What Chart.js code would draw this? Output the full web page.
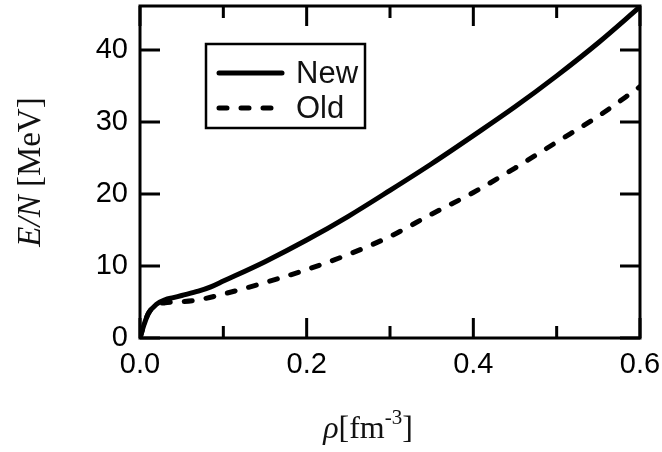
<!DOCTYPE html>
<html>
<head>
<meta charset="utf-8">
<script src="https://cdn.jsdelivr.net/npm/chart.js@4/dist/chart.umd.min.js"></script>
<style>
html, body { margin: 0; padding: 0; background: #fff; }
#wrap { width: 662px; height: 452px; }
</style>
</head>
<body>
<div id="wrap"><canvas id="myChart" width="662" height="452"></canvas></div>
<script>
// data
const rhoNew = [0, 0.005, 0.01, 0.02, 0.03, 0.04, 0.05, 0.07, 0.085, 0.1, 0.15, 0.2, 0.25, 0.3, 0.35, 0.4, 0.45, 0.5, 0.55, 0.6];
const eNew   = [0, 1.9, 3.4, 4.7, 5.3, 5.6, 5.9, 6.5, 7.1, 7.9, 10.6, 13.6, 16.9, 20.5, 24.2, 28.1, 32.1, 36.4, 41.0, 46.0];
const rhoOld = [0, 0.005, 0.01, 0.02, 0.03, 0.04, 0.05, 0.07, 0.1, 0.15, 0.2, 0.25, 0.3, 0.35, 0.4, 0.45, 0.5, 0.55, 0.6];
const eOld   = [0, 1.9, 3.4, 4.6, 4.9, 5.0, 5.05, 5.3, 6.1, 7.7, 9.5, 11.6, 14.1, 17.2, 20.2, 23.6, 27.2, 30.8, 34.9];
const seriesLabels = ['New', 'Old'];
const xTickLabels = ['0.0', '0.2', '0.4', '0.6'];
const yTickLabels = ['0', '10', '20', '30', '40'];

const SANS = '"Liberation Sans", Arial, sans-serif';
const SERIF = '"Liberation Serif", "Times New Roman", serif';

function toPoints(xs, ys) {
    return xs.map((x, i) => ({ x: x, y: ys[i] }));
}

// frame, inward ticks, axis titles and boxed legend
const decorPlugin = {
    id: 'decor',
    afterDraw(chart) {
        const ctx = chart.ctx;
        const a = chart.chartArea;
        const xs = chart.scales.x, ys = chart.scales.y;
        ctx.save();
        ctx.strokeStyle = '#000';
        ctx.lineWidth = 3;
        ctx.strokeRect(a.left, a.top, a.right - a.left, a.bottom - a.top);

        xs.ticks.forEach((t) => {
            const px = xs.getPixelForValue(t.value);
            const major = xTickLabels.includes(t.label);
            const len = major ? 20 : 12;
            ctx.beginPath();
            ctx.moveTo(px, a.bottom); ctx.lineTo(px, a.bottom - len);
            ctx.moveTo(px, a.top); ctx.lineTo(px, a.top + len);
            ctx.stroke();
        });
        ys.ticks.forEach((t) => {
            const py = ys.getPixelForValue(t.value);
            ctx.beginPath();
            ctx.moveTo(a.left, py); ctx.lineTo(a.left + 20, py);
            ctx.moveTo(a.right, py); ctx.lineTo(a.right - 20, py);
            ctx.stroke();
        });

        // y title: E/N [MeV]
        ctx.fillStyle = '#111';
        ctx.textBaseline = 'middle';
        ctx.textAlign = 'left';
        ctx.translate(31, a.top + 166);
        ctx.rotate(-Math.PI / 2);
        const itFont = 'italic 33px ' + SERIF, upFont = '33px ' + SERIF;
        ctx.font = itFont;
        const w1 = ctx.measureText('E/N').width;
        ctx.font = upFont;
        const w2 = ctx.measureText(' [MeV]').width;
        let sx = -(w1 + w2) / 2;
        ctx.font = itFont; ctx.fillText('E/N', sx, 0);
        ctx.font = upFont; ctx.fillText(' [MeV]', sx + w1, 0);
        ctx.setTransform(1, 0, 0, 1, 0, 0);

        // x title: rho[fm^-3]
        ctx.textBaseline = 'alphabetic';
        const parts = [
            { t: '\u03C1', f: 'italic 32px ' + SERIF, dy: 0 },
            { t: '[fm', f: '32px ' + SERIF, dy: 0 },
            { t: '-3', f: '21px ' + SERIF, dy: -14 },
            { t: ']', f: '32px ' + SERIF, dy: 0 },
        ];
        let tw = 0;
        parts.forEach((p) => { ctx.font = p.f; p.w = ctx.measureText(p.t).width; tw += p.w; });
        let cx = a.left + 228 - tw / 2;
        parts.forEach((p) => { ctx.font = p.f; ctx.fillText(p.t, cx, 438 + p.dy); cx += p.w; });

        // legend box
        const lx = a.left + 66, ly = a.top + 38, lw = 159, lh = 84;
        ctx.lineWidth = 2.5;
        ctx.strokeRect(lx, ly, lw, lh);
        ctx.font = '31px ' + SANS;
        ctx.textBaseline = 'middle';
        chart.data.datasets.forEach((ds, i) => {
            const yy = ly + 29 + i * 35;
            ctx.beginPath();
            ctx.lineWidth = ds.borderWidth;
            ctx.lineCap = ds.borderCapStyle || 'butt';
            ctx.setLineDash(ds.borderDash || []);
            ctx.moveTo(lx + 13, yy); ctx.lineTo(lx + 76, yy);
            ctx.stroke();
            ctx.setLineDash([]);
            ctx.fillStyle = '#111';
            ctx.fillText(ds.label, lx + 90, yy + 1);
        });
        ctx.restore();
    }
};

const ctx = document.getElementById('myChart').getContext('2d');
const chart = new Chart(ctx, {
    type: 'line',
    data: {
        datasets: [
            {
                label: seriesLabels[0],
                data: toPoints(rhoNew, eNew),
                borderColor: '#000',
                borderWidth: 5,
                borderCapStyle: 'round',
                pointRadius: 0,
                cubicInterpolationMode: 'monotone',
                fill: false,
            },
            {
                label: seriesLabels[1],
                data: toPoints(rhoOld, eOld),
                borderColor: '#000',
                borderWidth: 5,
                borderDash: [8, 14],
                borderCapStyle: 'round',
                pointRadius: 0,
                cubicInterpolationMode: 'monotone',
                fill: false,
            },
        ],
    },
    options: {
        responsive: false,
        animation: false,
        devicePixelRatio: 1,
        layout: { padding: { left: 0, right: 22, top: 6, bottom: 0 } },
        plugins: { legend: { display: false }, tooltip: { enabled: false } },
        scales: {
            x: {
                type: 'linear',
                min: 0,
                max: 0.6,
                afterFit: (s) => { s.height = 114; s.paddingLeft = 0; s.paddingRight = 0; },
                grid: { display: false, drawTicks: false },
                border: { display: false },
                ticks: {
                    stepSize: 0.1,
                    autoSkip: false,
                    maxRotation: 0,
                    padding: 10,
                    color: '#000',
                    font: { family: SANS, size: 29 },
                    callback: (v) => {
                        const s = v.toFixed(1);
                        return xTickLabels.includes(s) ? s : '';
                    },
                },
            },
            y: {
                type: 'linear',
                min: 0,
                max: 46.1,
                afterFit: (s) => { s.width = 140; s.paddingTop = 0; s.paddingBottom = 0; },
                afterBuildTicks: (s) => { s.ticks = s.ticks.filter((t) => yTickLabels.includes(String(t.value))); },
                grid: { display: false, drawTicks: false },
                border: { display: false },
                ticks: {
                    stepSize: 10,
                    includeBounds: false,
                    padding: 12,
                    color: '#000',
                    font: { family: SANS, size: 29 },
                },
            },
        },
    },
    plugins: [decorPlugin],
});
</script>
</body>
</html>
